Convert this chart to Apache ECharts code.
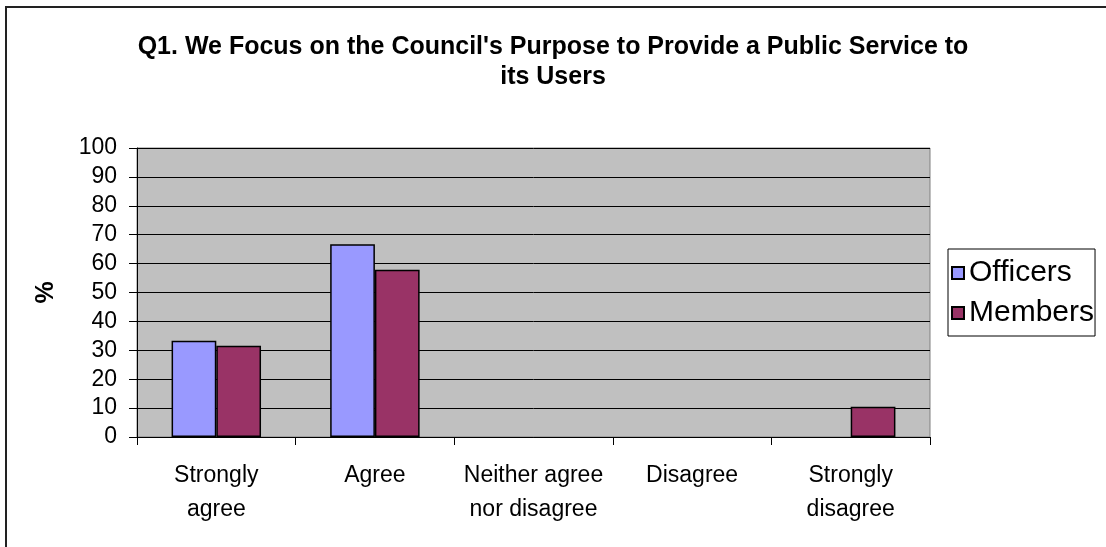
<!DOCTYPE html>
<html>
<head>
<meta charset="utf-8">
<script src="https://cdn.jsdelivr.net/npm/echarts@6/dist/echarts.min.js"></script>
<style>html,body{margin:0;padding:0;background:#fff}#c{width:1106px;height:547px}</style>
</head>
<body>
<div id="c"></div>
<script>
var categories = ['Strongly\nagree', 'Agree', 'Neither agree\nnor disagree', 'Disagree', 'Strongly\ndisagree'];
var officers = [33.3, 66.7, 0, 0, 0];
var members = [31.6, 57.9, 0, 0, 10.5];
var yTicks = [0, 10, 20, 30, 40, 50, 60, 70, 80, 90, 100];

// zero values are drawn as no bar (as in the original chart)
function toSeries(arr) { return arr.map(function (v) { return v === 0 ? '-' : v; }); }

var FONT = "'Liberation Sans', Arial, sans-serif";
var chart = echarts.init(document.getElementById('c'), null, {renderer: 'canvas'});
chart.setOption({
  animation: false,
  backgroundColor: '#fff',
  textStyle: {fontFamily: FONT},
  title: {
    text: "Q1. We Focus on the Council's Purpose to Provide a Public Service to\nits Users",
    left: 'center',
    top: 27,
    textStyle: {fontFamily: FONT, fontSize: 25, fontWeight: 'bold', color: '#000', lineHeight: 30}
  },
  graphic: [{
    type: 'rect', shape: {x: 6, y: 7, width: 1200, height: 600},
    style: {fill: 'none', stroke: '#222', lineWidth: 2}, silent: true, z: 100
  }],
  legend: {
    orient: 'vertical',
    left: 948, top: 249,
    padding: [9, 1, 8, 3],
    itemGap: 10,
    itemWidth: 12, itemHeight: 12,
    icon: 'rect',
    borderColor: '#000', borderWidth: 1,
    textStyle: {fontFamily: FONT, fontSize: 30, color: '#000'},
    data: ['Officers', 'Members']
  },
  grid: {
    left: 137, right: 176, top: 148, bottom: 110,
    show: true, backgroundColor: '#C0C0C0', borderColor: '#808080', borderWidth: 1
  },
  xAxis: {
    type: 'category',
    data: categories,
    axisLine: {lineStyle: {color: '#000', width: 1}},
    axisTick: {show: true, length: 8, lineStyle: {color: '#000'}},
    axisLabel: {interval: 0, margin: 22, fontFamily: FONT, fontSize: 23, color: '#000', lineHeight: 34}
  },
  yAxis: {
    type: 'value',
    min: yTicks[0], max: yTicks[yTicks.length - 1], interval: 10,
    name: '%', nameLocation: 'middle', nameRotate: 90, nameGap: 78,
    nameTextStyle: {fontFamily: FONT, fontSize: 25, fontWeight: 'bold', color: '#000'},
    axisLine: {show: true, lineStyle: {color: '#000', width: 1}},
    axisTick: {show: true, length: 8, lineStyle: {color: '#000'}},
    axisLabel: {margin: 20, fontFamily: FONT, fontSize: 23, color: '#000'},
    splitLine: {show: true, lineStyle: {color: '#000', width: 1}}
  },
  series: [{
    name: 'Officers', type: 'bar', data: toSeries(officers),
    barGap: '0%', barCategoryGap: '43.6%',
    itemStyle: {color: '#9999FF', borderColor: '#000', borderWidth: 1.5}
  }, {
    name: 'Members', type: 'bar', data: toSeries(members),
    barGap: '0%', barCategoryGap: '43.6%',
    itemStyle: {color: '#993366', borderColor: '#000', borderWidth: 1.5}
  }]
});
</script>
</body>
</html>
